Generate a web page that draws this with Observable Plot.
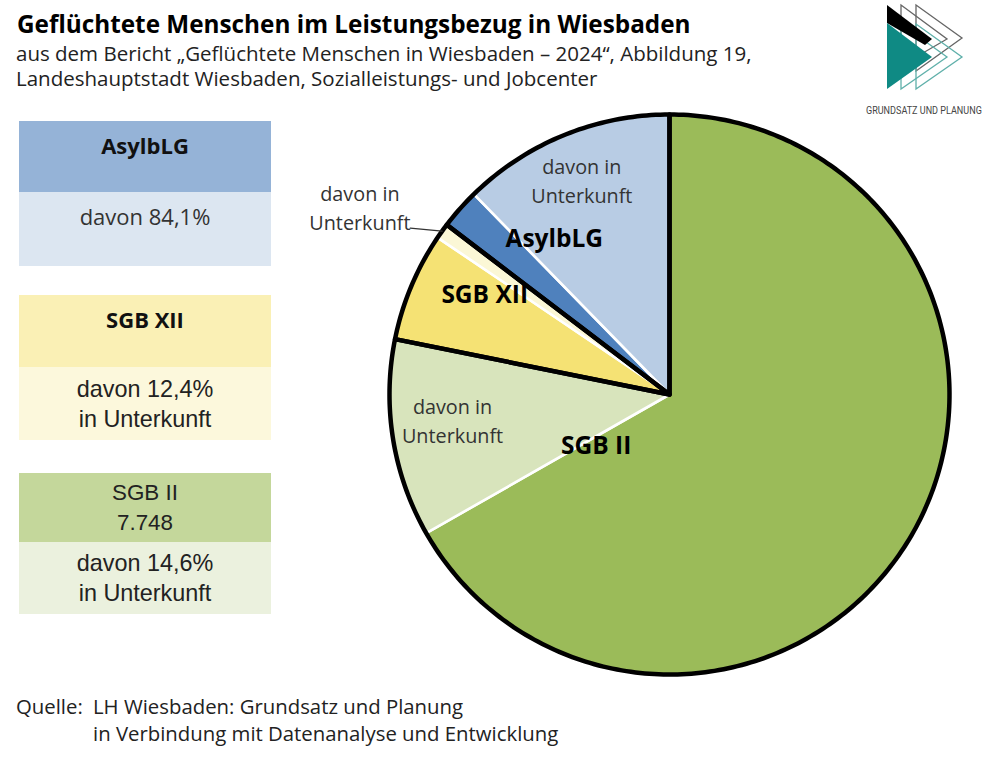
<!DOCTYPE html>
<html lang="de">
<head>
<meta charset="utf-8">
<script src="https://cdn.jsdelivr.net/npm/d3@7"></script>
<script src="https://cdn.jsdelivr.net/npm/@observablehq/plot@0.6"></script>
<style>
  body { margin: 0; background: #fff; font-family: "Open Sans", sans-serif; color: #222; }
  #page { position: relative; width: 986px; height: 758px; overflow: hidden; }
  #page > * { position: absolute; }
  h1 { margin: 0; left: 17px; top: 8px; font-size: 24.3px; line-height: 31px; font-weight: 700; color: #000; white-space: nowrap; }
  #sub { left: 16px; top: 41px; font-size: 20.5px; line-height: 25px; white-space: nowrap; }
  #quelle { left: 16px; top: 693px; font-size: 20.35px; line-height: 27px; white-space: nowrap; }
  #quelle span { position: absolute; left: 77px; }
  .box { left: 19px; width: 252px; display: flex; flex-direction: column; align-items: center; justify-content: center; text-align: center; font-size: 22px; line-height: 30px; color: #333; }
  .box.top { justify-content: flex-start; padding-top: 9px; box-sizing: border-box; }
  .box.bold { font-weight: 700; color: #111; font-size: 22px; }
  .box.arial { font-family: "Liberation Sans", sans-serif; font-size: 23.4px; color: #222; }
  .box.arial.kopf { font-size: 22.4px; }
  #chart { left: 290px; top: 100px; }
  #logo { left: 860px; top: 0; }
  #logotext { left: 866px; top: 104px; font: 11px/14px Roboto, sans-serif; color: #444; white-space: nowrap; transform-origin: left center; }
</style>
</head>
<body>
<div id="page">
  <h1>Geflüchtete Menschen im Leistungsbezug in Wiesbaden</h1>
  <div id="sub">aus dem Bericht „Geflüchtete Menschen in Wiesbaden – 2024“, Abbildung 19,<br>Landeshauptstadt Wiesbaden, Sozialleistungs- und Jobcenter</div>
  <svg id="logo" width="126" height="100">
    <polygon points="41,5 87,39 56,57 41,40" fill="none" stroke="#666" stroke-width="1.3"/>
    <polygon points="56,5 102,38 56,71" fill="none" stroke="#666" stroke-width="1.3"/>
    <polygon points="41,24 87,57 41,89" fill="none" stroke="#5fb0aa" stroke-width="1.3"/>
    <polygon points="56,24 102,57 56,89" fill="none" stroke="#5fb0aa" stroke-width="1.3"/>
    <polygon points="27,5 72,39 65,45 27,23" fill="#000"/>
    <polygon points="27,23 72,57 27,89" fill="#0f8a84"/>
  </svg>
  <div id="logotext">GRUNDSATZ UND PLANUNG</div>
  <div id="chart"></div>
  <div id="quelle">Quelle:<span>LH Wiesbaden: Grundsatz und Planung<br>in Verbindung mit Datenanalyse und Entwicklung</span></div>
</div>
<script>
// Werte aus dem Bild (SGB XII und AsylbLG geschaetzt aus den Winkeln)
const gruppen = ['SGB II', 'SGB XII', 'AsylbLG']
const personen = [7748, 713, 1451]
const anteilUnterkunft = [14.6, 12.4, 84.1]

const teile = ['SGB II', 'SGB II Unterkunft', 'SGB XII', 'SGB XII Unterkunft', 'AsylbLG', 'AsylbLG Unterkunft']
const teilFarben = ['#9bbb59', '#d8e4bc', '#f5e274', '#fbf7d6', '#4f81bd', '#b8cce4']

// Kaesten links
const kastenTitel = ['AsylbLG', 'SGB XII', 'SGB II\n7.748']
const kastenText = ['davon 84,1%', 'davon 12,4%\nin Unterkunft', 'davon 14,6%\nin Unterkunft']
const kastenKopfFarben = ['#95b3d7', '#faf0b5', '#c4d79b']
const kastenFussFarben = ['#dce6f1', '#fcf8dc', '#ebf1de']

const teilWerte = personen.flatMap((p, i) => {
  const u = p * anteilUnterkunft[i] / 100
  return [p - u, u]
})

const kuchen = d3.pie().sort(null).value(d => d)
const teilBoegen = kuchen(teilWerte)
const gruppenBoegen = kuchen(personen)

// Winkel in Grad im Uhrzeigersinn von oben, r relativ zum Kreisradius
const polar = (grad, r) => {
  const a = grad * Math.PI / 180
  return { x: r * Math.sin(a), y: r * Math.cos(a) }
}
const keil = (name, bogen) => {
  const schritte = Math.ceil((bogen.endAngle - bogen.startAngle) * 60)
  const rand = d3.range(schritte + 1).map(i => {
    const a = bogen.startAngle + (bogen.endAngle - bogen.startAngle) * i / schritte
    return { name, x: Math.sin(a), y: Math.cos(a) }
  })
  return [{ name, x: 0, y: 0 }, ...rand]
}
const grad = a => a * 180 / Math.PI
const mitte = b => grad((b.startAngle + b.endAngle) / 2)

const teilKeile = teilBoegen.flatMap((b, i) => keil(teile[i], b))
const gruppenKeile = gruppenBoegen.flatMap((b, i) => keil(gruppen[i], b))

const davon = 'davon in\nUnterkunft'
const davonLabels = [
  { text: davon, ...polar(mitte(teilBoegen[1]) + 2.6, 0.78) },
  { text: davon, ...polar(mitte(teilBoegen[5]), 0.83) },
  { text: davon, ...polar(mitte(teilBoegen[3]) - 4.4, 1.294) }
]
const namenLabels = [
  { text: gruppen[0], ...polar(235, 0.32) },
  { text: gruppen[1], ...polar(mitte(gruppenBoegen[1]) + 4, 0.75) },
  { text: gruppen[2], ...polar(323.4, 0.69) }
]
const linie = [polar(mitte(teilBoegen[3]), 1), polar(mitte(teilBoegen[3]) - 3, 1.10)]

const breite = 696, hoehe = 640, radius = 280, cx = 379, cy = 294

let chart = Plot.plot({
  width: breite,
  height: hoehe,
  margin: 0,
  x: { axis: null, domain: [-cx / radius, (breite - cx) / radius] },
  y: { axis: null, domain: [(cy - hoehe) / radius, cy / radius] },
  color: { domain: teile, range: teilFarben },
  marks: [
    Plot.line(teilKeile, { x: 'x', y: 'y', z: 'name', fill: 'name', stroke: 'white', strokeWidth: 2.6, curve: 'linear-closed' }),
    Plot.line(gruppenKeile, { x: 'x', y: 'y', z: 'name', fill: 'none', stroke: 'black', strokeWidth: 4.5, curve: 'linear-closed' }),
    Plot.line(linie, { x: 'x', y: 'y', stroke: '#333', strokeWidth: 1.4 }),
    Plot.text(davonLabels, { x: 'x', y: 'y', text: 'text', fontSize: 19.8, lineHeight: 1.45, fill: '#333', fontFamily: 'Open Sans' }),
    Plot.text(namenLabels, { x: 'x', y: 'y', text: 'text', fontSize: 24.5, fontWeight: 700, fill: '#000', fontFamily: 'Open Sans' })
  ]
})
d3.select('#chart').append(() => chart)

// Kaesten aus den Arrays bauen
const kastenLagen = [[121, 71, 74], [295, 72, 73], [473, 69, 72]]
const seite = d3.select('#page')
const zeilen = t => t.split('\n').join('<br>')
kastenTitel.forEach((t, i) => {
  const [oben, kopf, fuss] = kastenLagen[i]
  const unten = i == 2
  seite.append('div')
    .attr('class', 'box ' + (unten ? 'arial kopf' : 'bold top'))
    .style('top', oben + 'px').style('height', kopf + 'px')
    .style('background', kastenKopfFarben[i])
    .html(zeilen(t))
  seite.append('div')
    .attr('class', 'box ' + (i == 0 ? 'top' : 'arial'))
    .style('top', oben + kopf + 'px').style('height', fuss + 'px')
    .style('background', kastenFussFarben[i])
    .html(zeilen(kastenText[i]))
})

// Logotext schmal ziehen, es gibt keine Narrow-Schrift
const logotext = document.getElementById('logotext')
logotext.style.transform = `scaleX(${116 / logotext.offsetWidth})`
</script>
</body>
</html>
